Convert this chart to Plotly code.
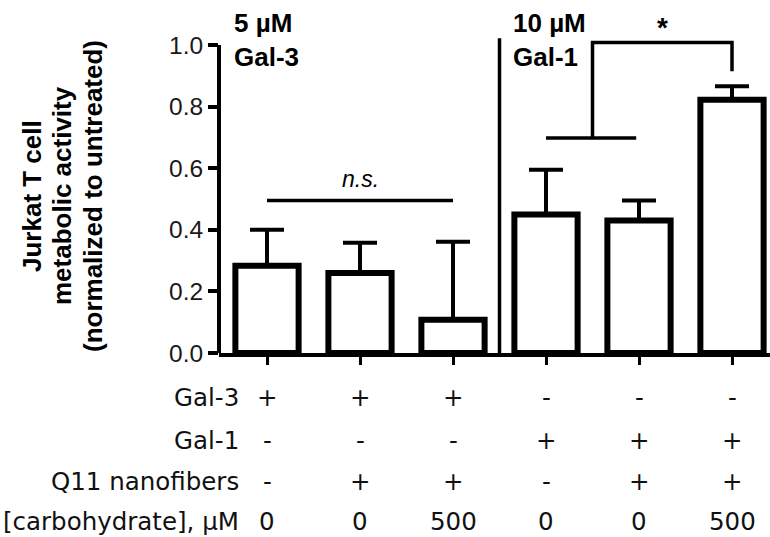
import plotly.graph_objects as go

# ---------------- data ----------------
conditions = ["c1", "c2", "c3", "c4", "c5", "c6"]
activity = [0.283, 0.260, 0.108, 0.450, 0.430, 0.822]
err_upper = [0.117, 0.098, 0.253, 0.145, 0.065, 0.044]
y_ticks = [0.0, 0.2, 0.4, 0.6, 0.8, 1.0]
y_ticklabels = ["0.0", "0.2", "0.4", "0.6", "0.8", "1.0"]

row_labels = ["Gal-3", "Gal-1", "Q11 nanofibers", "[carbohydrate], µM"]
gal3 = ["+", "+", "+", "-", "-", "-"]
gal1 = ["-", "-", "-", "+", "+", "+"]
q11 = ["-", "+", "+", "-", "+", "+"]
carbohydrate = ["0", "0", "500", "0", "0", "500"]

ns_level = 0.495
sig_low = 0.698
sig_high = 1.008
sig_right_end = 0.915
divider_top = 1.022

# ---------------- geometry ----------------
W, H = 770, 537
L, R, T, B = 219, 0, 0, 184
plot_w = W - L - R
plot_h = H - T - B
px_per_unit = 308.0
cat_px = 93.0
first_center_px = 267.0
x_lo = (L - first_center_px) / cat_px
x_hi = x_lo + plot_w / cat_px
y_hi = plot_h / px_per_unit

def px(xp):
    return (xp - L) / plot_w

def py(yp):
    return (H - B - yp) / plot_h

xs = list(range(len(conditions)))

fig = go.Figure()
fig.add_trace(go.Bar(
    x=xs, y=activity, width=0.68,
    marker=dict(color="white", line=dict(color="black", width=6)),
    error_y=dict(type="data", symmetric=False, array=err_upper,
                 arrayminus=[0] * len(activity),
                 color="black", thickness=4, width=17),
    showlegend=False, hoverinfo="skip",
))

shapes = []
# y-axis line (only up to 1.0)
shapes.append(dict(type="line", xref="paper", yref="y", x0=0, x1=0,
                   y0=0, y1=y_ticks[-1], line=dict(color="black", width=4)))
# n.s. line
shapes.append(dict(type="line", xref="x", yref="y", x0=xs[0], x1=xs[2],
                   y0=ns_level, y1=ns_level, line=dict(color="black", width=3.5)))
# divider
shapes.append(dict(type="line", xref="x", yref="y", x0=2.5, x1=2.5,
                   y0=0, y1=divider_top, line=dict(color="black", width=3.5)))
# significance bracket
shapes.append(dict(type="line", xref="x", yref="y", x0=3.0, x1=3.97,
                   y0=sig_low, y1=sig_low, line=dict(color="black", width=3.5)))
shapes.append(dict(type="path", xref="x", yref="y",
                   path=f"M 3.5 {sig_low} L 3.5 {sig_high} L {xs[5]} {sig_high} L {xs[5]} {sig_right_end}",
                   line=dict(color="black", width=3.5)))

ann = []
bold_title = dict(family="Liberation Sans, Arial", size=26, color="black")
bold = dict(family="Liberation Sans, Arial", size=26, color="black")
# y title lines
for text, xc in [("Jurkat T cell", 32), ("metabolic activity", 62),
                 ("(normalized to untreated)", 93)]:
    ann.append(dict(text=f"<b>{text}</b>", xref="paper", yref="paper",
                    x=px(xc), y=py(196), showarrow=False, textangle=-90,
                    xanchor="center", yanchor="middle", font=bold_title))
# panel labels
for text, xl in [("5 µM", 232), ("10 µM", 511)]:
    ann.append(dict(text=f"<b>{text}</b>", xref="paper", yref="paper",
                    x=px(xl), y=py(23), showarrow=False,
                    xanchor="left", yanchor="middle", font=bold))
for text, xl in [("Gal-3", 232), ("Gal-1", 511)]:
    ann.append(dict(text=f"<b>{text}</b>", xref="paper", yref="paper",
                    x=px(xl), y=py(57), showarrow=False,
                    xanchor="left", yanchor="middle", font=bold))
# n.s. and star
ann.append(dict(text="<i>n.s.</i>", xref="x", yref="paper", x=xs[1], y=py(179),
                showarrow=False, xanchor="center", yanchor="middle",
                font=dict(family="Liberation Sans, Arial", size=23, color="black")))
ann.append(dict(text="<b>*</b>", xref="paper", yref="paper", x=px(662), y=py(27),
                showarrow=False, xanchor="center", yanchor="middle",
                font=dict(family="Liberation Sans, Arial", size=28, color="black")))

# condition table
tfont = dict(family="DejaVu Sans", size=24.5, color="#111")
row_y = [398, 440, 481, 521]
rows = [gal3, gal1, q11, carbohydrate]
for label, yr, vals in zip(row_labels, row_y, rows):
    ann.append(dict(text=label, xref="paper", yref="paper", x=px(241), y=py(yr),
                    showarrow=False, xanchor="right", yanchor="middle", font=tfont))
    for xi, v in zip(xs, vals):
        ann.append(dict(text=v, xref="x", yref="paper", x=xi, y=py(yr),
                        showarrow=False, xanchor="center", yanchor="middle",
                        font=tfont))

fig.update_layout(
    width=W, height=H,
    margin=dict(l=L, r=R, t=T, b=B, pad=0),
    paper_bgcolor="white", plot_bgcolor="white",
    shapes=shapes, annotations=ann,
    xaxis=dict(range=[x_lo, x_hi], showgrid=False, zeroline=False,
               showline=True, linecolor="black", linewidth=4,
               tickvals=xs, ticks="outside", ticklen=8, tickwidth=3,
               tickcolor="black", showticklabels=False),
    yaxis=dict(range=[0, y_hi], showgrid=False, zeroline=False, showline=False,
               tickvals=y_ticks, ticktext=y_ticklabels, ticks="outside",
               ticklen=10, tickwidth=4, tickcolor="black",
               tickfont=dict(family="Liberation Sans, Arial", size=24.5, color="#1a1a1a")),
    bargap=0.3,
)

fig.write_html("out.html", config={"displayModeBar": False},
               post_script="document.body.style.margin='0';document.body.style.overflow='hidden';")
